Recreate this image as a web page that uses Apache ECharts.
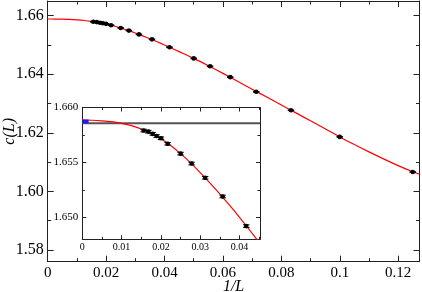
<!DOCTYPE html>
<html><head><meta charset="utf-8">
<script src="https://cdn.jsdelivr.net/npm/echarts@6/dist/echarts.min.js"></script>
<style>html,body{margin:0;padding:0;background:#fff}#c{width:422px;height:292px}</style>
</head><body><div id="c"></div>
<script>
// ---- data ----
const curveX = [0, 0.0025, 0.005, 0.0075, 0.01, 0.0125, 0.015, 0.0175, 0.02, 0.0225, 0.025, 0.0275, 0.03, 0.0325, 0.035, 0.0375, 0.04, 0.0425, 0.045, 0.05, 0.055, 0.06, 0.065, 0.07, 0.075, 0.08, 0.085, 0.09, 0.095, 0.1, 0.105, 0.11, 0.115, 0.12, 0.125, 0.1273];
const curveY = [1.65885, 1.65884, 1.65879, 1.65871, 1.65856, 1.65835, 1.65804, 1.65765, 1.65715, 1.65654, 1.65580, 1.65498, 1.65407, 1.65311, 1.65212, 1.65108, 1.65000, 1.64887, 1.64772, 1.6454, 1.6429, 1.6403, 1.6376, 1.6349, 1.6322, 1.6295, 1.6268, 1.6241, 1.6214, 1.6186, 1.6160, 1.6135, 1.6111, 1.6088, 1.6067, 1.6059];
const ptX = [0.0156, 0.0168, 0.0179, 0.0189, 0.0200, 0.0217, 0.0250, 0.0278, 0.03125, 0.0357, 0.0417, 0.0500, 0.0556, 0.0625, 0.0714, 0.0833, 0.1000, 0.1250];
const ptY = [1.6579, 1.6578, 1.6576, 1.6574, 1.6572, 1.6567, 1.6558, 1.6549, 1.6536, 1.6519, 1.6492, 1.6454, 1.6427, 1.6390, 1.6340, 1.6277, 1.6186, 1.6066];
const ptErr = [0.00012, 0.00012, 0.00012, 0.00012, 0.00012, 0.00012, 0.00012, 0.00012, 0.00012, 0.00012, 0.00012, 0.00012, 0.00012, 0.00012, 0.00012, 0.00012, 0.00012, 0.00012];
const cInf = 1.65856;
const grayX = [0, 0.0452];
const blueX = [0.00085], blueY = [1.65874], blueXErr = [0.00075];
const mainXTicks = ['0', '0.02', '0.04', '0.06', '0.08', '0.1', '0.12'];
const mainXMinor = [0.01, 0.03, 0.05, 0.07, 0.09, 0.11];
const mainYTicks = ['1.58', '1.60', '1.62', '1.64', '1.66'];
const mainYMinor = [1.59, 1.61, 1.63, 1.65];
const insetXTicks = ['0', '0.01', '0.02', '0.03', '0.04'];
const insetXMinor = [0.005, 0.015, 0.025, 0.035, 0.045];
const insetYTicks = ['1.650', '1.655', '1.660'];
const insetYMinor = [1.6525, 1.6575];

const FONT = '"Liberation Serif", "DejaVu Serif", serif';
const AX = '#222';
const MAIN = { x: [0, 0.1273], y: [1.576, 1.665] };
const INSET = { x: [0, 0.0452], y: [1.648, 1.660] };

function axis(grid, pos, range, values, labels, size, len, lineShow) {
  return {
    type: 'value', gridIndex: grid, position: pos, min: range[0], max: range[1],
    axisLine: { show: lineShow, onZero: false, lineStyle: { color: AX, width: 1 } },
    axisTick: { show: true, inside: true, length: len, customValues: values, lineStyle: { color: AX, width: 1 } },
    splitLine: { show: false },
    axisLabel: labels ? { show: true, customValues: values, formatter: function (v) {
      for (const t of labels) if (Math.abs(parseFloat(t) - v) < 1e-9) return t; return '';
    }, fontFamily: FONT, fontSize: size, color: '#000', margin: 3 } : { show: false }
  };
}
const num = a => a.map(t => parseFloat(t));

const xAxes = [
  axis(0, 'bottom', MAIN.x, num(mainXTicks), mainXTicks, 15, 6, true),
  axis(0, 'bottom', MAIN.x, mainXMinor, null, 15, 3.5, false),
  axis(0, 'top', MAIN.x, num(mainXTicks), null, 15, 6, true),
  axis(0, 'top', MAIN.x, mainXMinor, null, 15, 3.5, false),
  axis(1, 'bottom', INSET.x, num(insetXTicks), insetXTicks, 10, 4, true),
  axis(1, 'bottom', INSET.x, insetXMinor, null, 10, 2.5, false),
  axis(1, 'top', INSET.x, num(insetXTicks), null, 10, 4, true),
  axis(1, 'top', INSET.x, insetXMinor, null, 10, 2.5, false)
];
const yAxes = [
  axis(0, 'left', MAIN.y, num(mainYTicks), mainYTicks, 16, 6, true),
  axis(0, 'left', MAIN.y, mainYMinor, null, 15, 3.5, false),
  axis(0, 'right', MAIN.y, num(mainYTicks), null, 15, 6, true),
  axis(0, 'right', MAIN.y, mainYMinor, null, 15, 3.5, false),
  axis(1, 'left', INSET.y, num(insetYTicks), insetYTicks, 11, 4, true),
  axis(1, 'left', INSET.y, insetYMinor, null, 10, 2.5, false),
  axis(1, 'right', INSET.y, num(insetYTicks), null, 10, 4, true),
  axis(1, 'right', INSET.y, insetYMinor, null, 10, 2.5, false)
];
xAxes[0].name = '1/L'; xAxes[0].nameLocation = 'middle'; xAxes[0].nameGap = 17; xAxes[0].nameMoveOverlap = false;
xAxes[0].nameTextStyle = { fontFamily: FONT, fontStyle: 'italic', fontSize: 16, color: '#000' };
xAxes[0].axisLabel.margin = 4;
yAxes[0].name = 'c(L)'; yAxes[0].nameLocation = 'middle'; yAxes[0].nameGap = 30; yAxes[0].nameMoveOverlap = false;
yAxes[0].nameTextStyle = { fontFamily: FONT, fontStyle: 'italic', fontSize: 16, color: '#000' };
yAxes[0].axisLabel.margin = 4;
yAxes[4].axisLabel.margin = 4;

const curve = curveX.map((x, i) => [x, curveY[i]]);
const pts = ptX.map((x, i) => [x, ptY[i], ptErr[i]]);
const insetPts = pts.filter(p => p[0] <= INSET.x[1]);

function renderPts(params, api) {
  const x = api.value(0), y = api.value(1), e = api.value(2);
  const p = api.coord([x, y]);
  const t = api.coord([x, y + e]);
  const b = api.coord([x, y - e]);
  const hw = 3.2;
  const st = { stroke: '#000', lineWidth: 1 };
  return {
    type: 'group', children: [
      { type: 'line', shape: { x1: p[0], y1: t[1], x2: p[0], y2: b[1] }, style: st },
      { type: 'line', shape: { x1: p[0] - hw, y1: t[1], x2: p[0] + hw, y2: t[1] }, style: st },
      { type: 'line', shape: { x1: p[0] - hw, y1: b[1], x2: p[0] + hw, y2: b[1] }, style: st },
      { type: 'circle', shape: { cx: p[0], cy: p[1], r: 2.3 }, style: { fill: '#000' } }
    ]
  };
}
function renderBlue(params, api) {
  const x = api.value(0), y = api.value(1), e = api.value(2);
  const l = api.coord([x - e, y]);
  const r = api.coord([x + e, y]);
  return { type: 'rect', shape: { x: l[0], y: l[1] - 1.8, width: r[0] - l[0], height: 3.6 }, style: { fill: '#1a1aff' } };
}

const chart = echarts.init(document.getElementById('c'), null, { renderer: 'canvas' });
chart.setOption({
  animation: false,
  backgroundColor: '#fff',
  grid: [
    { left: 47.7, top: 1, right: 2.5, bottom: 30.3, show: false, outerBoundsMode: 'none', containLabel: false },
    { left: 82.3, top: 107.5, right: 162, bottom: 52.7, show: true, backgroundColor: '#fff', borderWidth: 0, outerBoundsMode: 'none', containLabel: false }
  ],
  xAxis: xAxes,
  yAxis: yAxes,
  series: [
    { type: 'line', xAxisIndex: 0, yAxisIndex: 0, data: curve, showSymbol: false, smooth: 0.3, lineStyle: { color: '#ff0000', width: 1.2 }, z: 2 },
    { type: 'custom', xAxisIndex: 0, yAxisIndex: 0, data: pts, renderItem: renderPts, z: 3 },
    { type: 'line', xAxisIndex: 4, yAxisIndex: 4, data: grayX.map(x => [x, cInf]), showSymbol: false, clip: true, lineStyle: { color: '#555', width: 2 }, z: 6 },
    { type: 'line', xAxisIndex: 4, yAxisIndex: 4, data: curve, showSymbol: false, smooth: 0.3, clip: true, lineStyle: { color: '#ff0000', width: 1.2 }, z: 7 },
    { type: 'custom', xAxisIndex: 4, yAxisIndex: 4, data: insetPts, renderItem: renderPts, clip: true, z: 8 },
    { type: 'custom', xAxisIndex: 4, yAxisIndex: 4, data: blueX.map((x, i) => [x, blueY[i], blueXErr[i]]), renderItem: renderBlue, clip: true, z: 9 }
  ]
});
</script></body></html>
